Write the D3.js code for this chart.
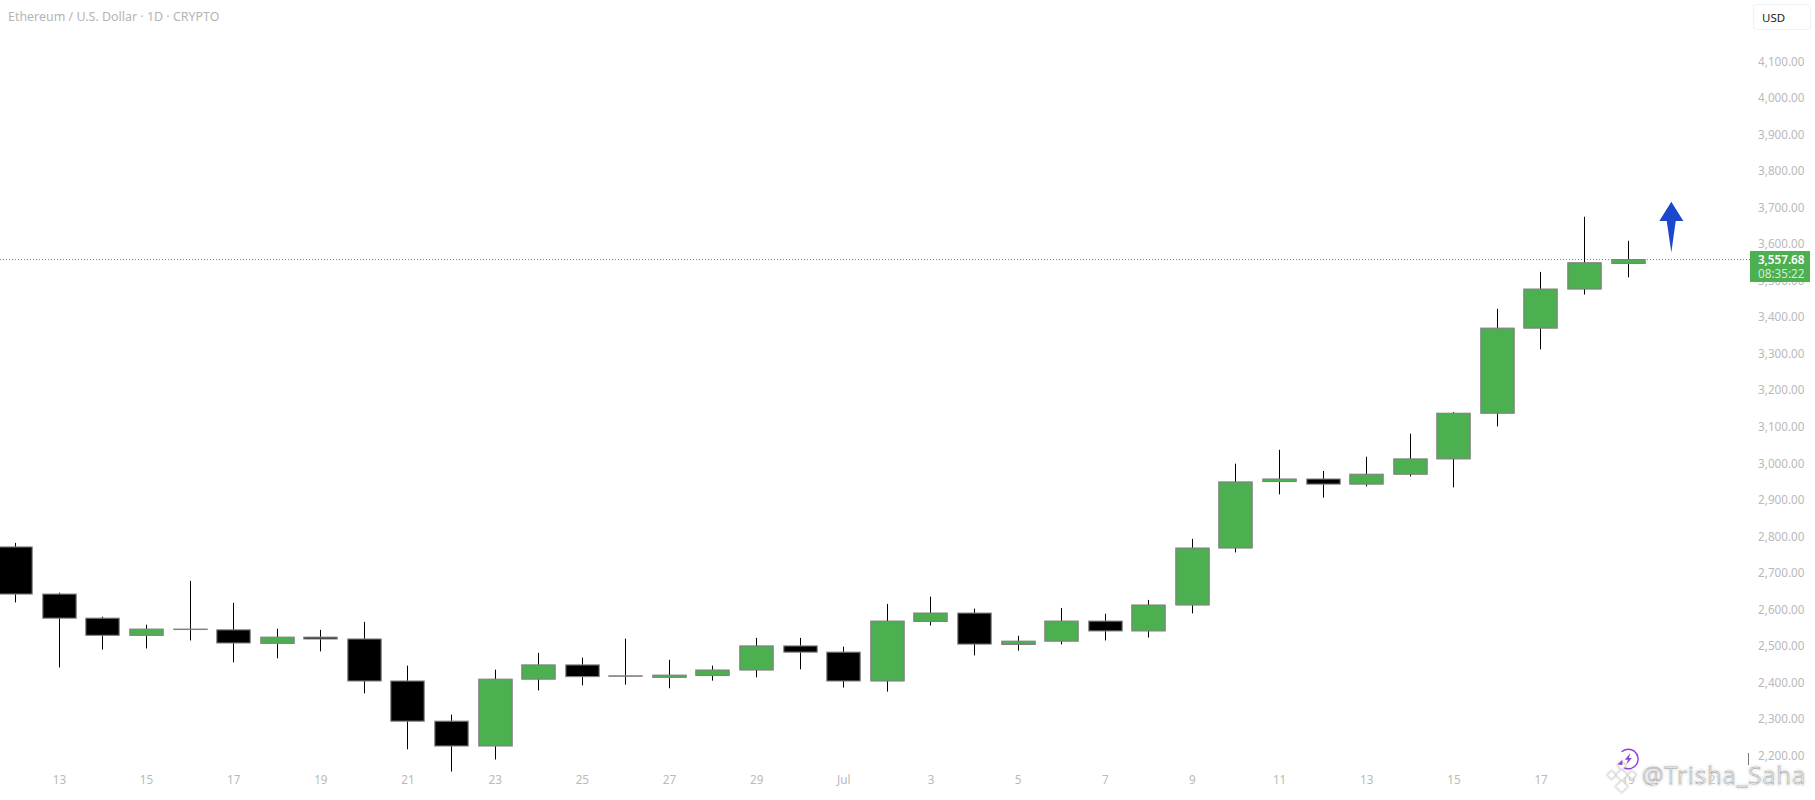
<!DOCTYPE html>
<html><head><meta charset="utf-8">
<script src="https://cdn.jsdelivr.net/npm/d3@7/dist/d3.min.js"></script>
<style>html,body{margin:0;padding:0;background:#fff;overflow:hidden}svg{display:block}
text{font-family:"Noto Sans",sans-serif}</style></head><body>
<svg id="c" width="1815" height="800"></svg>
<script>
const dates=["Jun 12","Jun 13","Jun 14","Jun 15","Jun 16","Jun 17","Jun 18","Jun 19","Jun 20","Jun 21","Jun 22","Jun 23","Jun 24","Jun 25","Jun 26","Jun 27","Jun 28","Jun 29","Jun 30","Jul 1","Jul 2","Jul 3","Jul 4","Jul 5","Jul 6","Jul 7","Jul 8","Jul 9","Jul 10","Jul 11","Jul 12","Jul 13","Jul 14","Jul 15","Jul 16","Jul 17","Jul 18","Jul 19"];
const opens=[2771,2642,2576,2529,2546,2544,2507,2524,2519,2404,2294,2226,2409,2448,2418,2414,2419,2434,2500,2483,2404,2567,2590,2504,2513,2568,2541,2612,2768,2950,2957,2943,2970,3012,3137,3370,3477,3547];
const highs=[2782,2646,2580,2558,2678,2618,2547,2544,2566,2446,2312,2435,2481,2468,2520,2462,2446,2522,2522,2498,2615,2635,2602,2528,2604,2588,2626,2793,2999,3037,2979,3018,3081,3140,3423,3524,3675,3609];
const lows=[2619,2441,2490,2493,2515,2455,2466,2485,2370,2217,2156,2189,2378,2392,2394,2384,2405,2414,2436,2386,2375,2556,2474,2487,2504,2515,2523,2589,2756,2915,2906,2937,2964,2934,3101,3312,3462,3509];
const closes=[2642,2576,2529,2546,2545,2508,2524,2519,2404,2294,2226,2409,2448,2416,2417,2420,2434,2500,2483,2404,2568,2590,2505,2513,2568,2541,2612,2768,2949,2957,2943,2970,3012,3137,3370,3477,3549,3557.68];
const priceTicks=[2200,2300,2400,2500,2600,2700,2800,2900,3000,3100,3200,3300,3400,3500,3600,3700,3800,3900,4000,4100];
const timeTickIndex=[1,3,5,7,9,11,13,15,17,19,21,23,25,27,29,31,33,35,37,39];
const timeTickLabels=["13","15","17","19","21","23","25","27","29","Jul","3","5","7","9","11","13","15","17","19","21"];
const lastPrice=3557.68, countdown="08:35:22";
const title="Ethereum / U.S. Dollar · 1D · CRYPTO", currency="USD", watermark="@Trisha_Saha";
const arrowAt={index:38,top:3716,bottom:3577};

const GREEN="#4caf50",GREY="#808080",LABEL="#b9b9b9";
const svg=d3.select("#c");
const x=d3.scaleLinear().domain([0,39]).range([15.72,1715.3]);
const y=d3.scaleLinear().domain([2200,4100]).range([755.5,61.5]);
const px=v=>Math.floor(v)+0.5;
const bodyW=33.4;

// axes
const yAxis=d3.axisLeft(y).tickValues(priceTicks).tickSize(0).tickPadding(0).tickFormat(d3.format(",.2f"));
const gy=svg.append("g").attr("transform","translate(1804.5,0)").call(yAxis);
gy.select(".domain").remove();
gy.selectAll("text").attr("fill",LABEL).attr("font-size",11.7).attr("text-anchor","end").attr("font-family",'"Noto Sans",sans-serif');

const xAxis=d3.axisBottom(x).tickValues(timeTickIndex).tickSize(0).tickPadding(0).tickFormat((d,i)=>timeTickLabels[i]);
const gx=svg.append("g").attr("transform","translate(-0.4,776)").call(xAxis);
gx.select(".domain").remove();
gx.selectAll("text").attr("fill",LABEL).attr("font-size",11.7).attr("font-family",'"Noto Sans",sans-serif');

// last price line
svg.append("line").attr("x1",0).attr("x2",1750).attr("y1",px(y(lastPrice))).attr("y2",px(y(lastPrice)))
  .attr("stroke",GREEN).attr("stroke-width",1).attr("stroke-dasharray","1 2");

// candles
const candles=svg.append("g");
dates.forEach((d,i)=>{
  const cx=x(i), up=closes[i]>=opens[i];
  candles.append("line").attr("x1",px(cx)).attr("x2",px(cx)).attr("y1",y(highs[i])).attr("y2",y(lows[i]))
    .attr("stroke","#000").attr("stroke-width",1);
  const t=y(Math.max(opens[i],closes[i])), b=y(Math.min(opens[i],closes[i]));
  candles.append("rect").attr("x",px(cx)-bodyW/2).attr("width",bodyW)
    .attr("y",t).attr("height",Math.max(b-t,0.3))
    .attr("fill",up?GREEN:"#000").attr("stroke",GREY).attr("stroke-width",1.1);
});

// arrow annotation
const ax=x(arrowAt.index)-0.4, at=y(arrowAt.top), ab=y(arrowAt.bottom), wing=at+19.3;
svg.append("path").attr("fill","#1a47cc").attr("d",d3.line()([[ax,at],[ax+12,wing],[ax+4.4,wing],[ax,ab],[ax-4.6,wing],[ax-12,wing]])+"Z");

// title
svg.append("text").attr("x",8).attr("y",20.5).attr("font-size",12.45).attr("fill","#b4b4b4").text(title);

// currency button
svg.append("rect").attr("x",1753.5).attr("y",4.5).attr("width",57).attr("height",25).attr("rx",3.5)
  .attr("fill","#fff").attr("stroke","#f2f2f2").attr("stroke-width",1.2);
svg.append("text").attr("x",1762).attr("y",21.5).attr("font-size",11.5).attr("fill","#222").text(currency);

// price tag
svg.append("rect").attr("x",1750).attr("y",y(lastPrice)-8.6).attr("width",60).attr("height",31).attr("fill",GREEN);
svg.append("text").attr("x",1804.5).attr("y",y(lastPrice)+4.2).attr("text-anchor","end").attr("font-size",11.7).attr("font-weight",600).attr("fill","#fff").text(d3.format(",.2f")(lastPrice));
svg.append("text").attr("x",1804.5).attr("y",y(lastPrice)+18.2).attr("text-anchor","end").attr("font-size",11.7).attr("fill","#d6ecd7").text(countdown);

// small axis mark near the bottom
svg.append("line").attr("x1",1748.5).attr("x2",1748.5).attr("y1",753).attr("y2",765).attr("stroke","#777").attr("stroke-width",1);

// watermark
const defs=svg.append("defs");
defs.append("filter").attr("id","blur").append("feGaussianBlur").attr("stdDeviation",1.1);
const wm=svg.append("g");
const wmText=(fill,stroke,w,flt)=>{const t=wm.append("text").attr("x",1642).attr("y",784).attr("font-size",24).attr("font-family","Roboto,sans-serif").attr("font-weight",300)
  .attr("textLength",163).attr("lengthAdjust","spacing").attr("fill",fill).attr("stroke",stroke).attr("stroke-width",w).text(watermark); if(flt)t.attr("filter",flt);};
wmText("#dcdcdc","#e8e8e8",3,"url(#blur)");
wmText("#fff","#9a9a9a",0.5,null);
// exchange mark
const diamond=(cx,cy,r)=>`M${cx},${cy-r}L${cx+r},${cy}L${cx},${cy+r}L${cx-r},${cy}Z`;
const marks=[[1621.7,775,5.5],[1611.5,775,4],[1632,775,4],[1621.7,765.5,4],[1621.7,786.5,5.8]];
const halo=wm.append("g").attr("fill","#ddd").attr("stroke","#ddd").attr("stroke-width",2.5).attr("filter","url(#blur)");
marks.forEach(d=>halo.append("path").attr("d",diamond(...d)));
const logo=wm.append("g").attr("fill","#fff").attr("stroke","#d0d0d0").attr("stroke-width",0.8);
marks.forEach(d=>logo.append("path").attr("d",diamond(...d)));
// lightning badge
const bx=1628.3,by=759,br=9.8;
const arc=d3.arc().innerRadius(br-.7).outerRadius(br+.7).startAngle(-0.75).endAngle(3.55);
wm.append("path").attr("transform",`translate(${bx},${by})`).attr("d",arc()).attr("fill","#8e44d8");
wm.append("path").attr("fill","#8e44d8").attr("d",d3.line()([[bx+2,by-6],[bx-3.5,by+0.8],[bx-0.4,by+0.8],[bx-2,by+5.5],[bx+3.6,by-1],[bx+0.6,by-1]])+"Z");
wm.append("path").attr("fill","#8e44d8").attr("d",d3.line()([[bx-6,by+1],[bx-5.8,by+6],[bx-11,by+5.6]])+"Z");
</script></body></html>
